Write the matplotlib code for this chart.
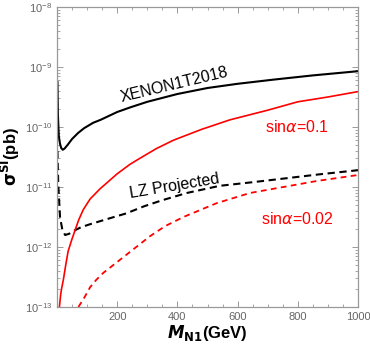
import matplotlib
matplotlib.use("Agg")
import matplotlib.pyplot as plt
from matplotlib.ticker import MultipleLocator, FixedLocator, NullFormatter, LogFormatterSciNotation
import numpy as np

plt.rcParams['font.family'] = ['Liberation Sans', 'DejaVu Sans']
plt.rcParams['mathtext.fontset'] = 'dejavusans'

# XENON1T2018 limit
xenon_m = [1.5, 3, 6, 10, 14, 19, 25, 35, 50, 70, 90, 120, 145, 200, 245, 300, 400, 500, 600, 720, 850, 1000]
xenon_log = [-9.25, -9.8, -10.15, -10.28, -10.35, -10.38, -10.36, -10.3, -10.2, -10.1, -10.02, -9.93,
             -9.88, -9.75, -9.67, -9.58, -9.45, -9.35, -9.28, -9.21, -9.14, -9.07]

# LZ projected
lz_m = [1.5, 4, 10, 18, 27, 40, 60, 80, 110, 176, 230, 290, 350, 431, 541, 650, 752, 870, 1000]
lz_log = [-10.4, -10.93, -11.5, -11.72, -11.8, -11.78, -11.72, -11.67, -11.62, -11.52, -11.44, -11.32,
          -11.22, -11.1, -10.98, -10.92, -10.86, -10.79, -10.72]

# sin(alpha) = 0.1
s1_m = [8, 12, 15, 21, 29, 37, 49, 60, 72, 87, 110, 143, 200, 243, 276, 330, 387, 480, 575, 700, 800, 900, 1000]
s1_log = [-13.0, -12.8, -12.7, -12.55, -12.3, -12.07, -11.88, -11.72, -11.55, -11.38, -11.2, -11.03,
          -10.78, -10.62, -10.52, -10.36, -10.22, -10.04, -9.88, -9.72, -9.58, -9.5, -9.41]

# sin(alpha) = 0.02
s2_m = [71, 90, 110, 130, 154, 200, 243, 309, 360, 420, 530, 641, 752, 863, 1000]
s2_log = [-13.0, -12.85, -12.67, -12.55, -12.43, -12.25, -12.08, -11.82, -11.65, -11.5, -11.27, -11.1,
          -11.0, -10.9, -10.8]

xticks = [200, 400, 600, 800, 1000]
yticks = [1e-13, 1e-12, 1e-11, 1e-10, 1e-9, 1e-8]

fig = plt.figure(figsize=(3.7, 3.48), dpi=100)
ax = fig.add_axes([57/370, 41/348, 301/370, 300/348])

ax.plot(xenon_m, 10**np.array(xenon_log), color='black', lw=1.5)
ax.plot(lz_m, 10**np.array(lz_log), color='black', lw=1.5, dashes=(3.5, 2.2))
ax.plot(s1_m, 10**np.array(s1_log), color='red', lw=1.2)
ax.plot(s2_m, 10**np.array(s2_log), color='red', lw=1.3, dashes=(3.2, 2.4))

ax.set_yscale('log')
ax.set_xlim(0, 1000)
ax.set_ylim(1e-13, 1e-8)
ax.xaxis.set_major_locator(FixedLocator(xticks))
ax.xaxis.set_minor_locator(MultipleLocator(50))
ax.yaxis.set_major_locator(FixedLocator(yticks))
ax.yaxis.set_major_formatter(LogFormatterSciNotation())
minor_y = [m * 10.0**e for e in range(-13, -8) for m in range(2, 10)]
ax.yaxis.set_minor_locator(FixedLocator(minor_y))
ax.yaxis.set_minor_formatter(NullFormatter())

for sp in ax.spines.values():
    sp.set_color('#999999')
    sp.set_linewidth(0.9)
ax.tick_params(which='both', direction='in', top=True, right=True, colors='#999999',
               labelcolor='#666666', labelsize=8)
ax.tick_params(which='major', length=4, width=0.7)
ax.tick_params(which='minor', length=2.2, width=0.6)

ax.set_xlabel(r'$\mathbfit{M}_{\mathbf{N1}}$(GeV)', fontsize=12, fontweight='bold', labelpad=1)
ax.set_ylabel(r'$\mathbf{\sigma}^{\mathbf{SI}}$(pb)', fontsize=12, fontweight='bold', labelpad=2)

ax.text(0.389, 0.74, 'XENON1T2018', transform=ax.transAxes, fontsize=11.5,
        rotation=13.5, ha='center', va='center', rotation_mode='anchor')
ax.text(0.392, 0.403, 'LZ Projected', transform=ax.transAxes, fontsize=11.5,
        rotation=9.5, ha='center', va='center', rotation_mode='anchor')
ax.text(0.797, 0.60, r'sin$\alpha$=0.1', transform=ax.transAxes, fontsize=11.5,
        color='red', ha='center', va='center')
ax.text(0.797, 0.293, r'sin$\alpha$=0.02', transform=ax.transAxes, fontsize=11.5,
        color='red', ha='center', va='center')

fig.savefig('out.png', dpi=100)
